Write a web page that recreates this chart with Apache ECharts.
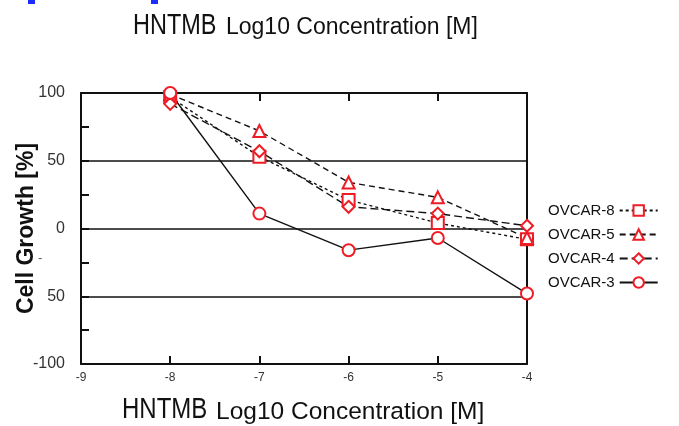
<!DOCTYPE html>
<html>
<head>
<meta charset="utf-8">
<script src="https://cdn.jsdelivr.net/npm/echarts@6/dist/echarts.min.js"></script>
<style>
html,body{margin:0;padding:0;background:#fff;}
#chart{width:679px;height:426px;}
</style>
</head>
<body>
<div id="chart"></div>
<script>
const xValues = [-8, -7, -6, -5, -4];
const ovcar8 = [97, 53, 21, 4, -8];
const ovcar5 = [99, 72, 34, 23, -7];
const ovcar4 = [92, 57, 16, 11, 2];
const ovcar3 = [100, 11, -16, -7, -48];
const seriesNames = ['OVCAR-8', 'OVCAR-5', 'OVCAR-4', 'OVCAR-3'];
const yTickValues = [-100, -50, 0, 50, 100];
const yTickLabels = ['-100', '50', '0', '50', '100'];
const xTickLabels = ['-9', '-8', '-7', '-6', '-5', '-4'];
const titleDrug = 'HNTMB';
const titleUnit = 'Log10 Concentration [M]';

const RED = '#ee1c25';
const FONT = '"Liberation Sans", Arial, sans-serif';

function pairs(vals) { return xValues.map((x, i) => [x, vals[i]]); }

function mkSeries(name, vals, symbol, dash) {
  return {
    name: name, type: 'line', data: pairs(vals),
    symbol: symbol, symbolSize: 12, showSymbol: true,
    xAxisIndex: 0, yAxisIndex: 0,
    lineStyle: { color: '#111', width: 1.4, type: dash },
    itemStyle: { color: RED, borderColor: RED, borderWidth: 1.5 },
    emphasis: { disabled: true },
    z: 3
  };
}

function txt(text, x, y, size, scaleX) {
  return {
    type: 'text', x: x, y: y, scaleX: scaleX || 1, silent: true,
    style: { text: text, fontFamily: FONT, fontSize: size, fill: '#111',
      textAlign: 'left', textVerticalAlign: 'middle', verticalAlign: 'middle' }
  };
}

const chart = echarts.init(document.getElementById('chart'), null, { renderer: 'canvas' });
chart.setOption({
  animation: false,
  backgroundColor: '#fff',
  legend: {
    orient: 'vertical', left: 543, top: 198, align: 'right',
    itemWidth: 38, itemHeight: 13, itemGap: 9,
    data: seriesNames,
    textStyle: { fontFamily: FONT, fontSize: 15, color: '#111' }
  },
  grid: { left: 81, right: 152, top: 93, bottom: 62, outerBoundsMode: 'none', containLabel: false },
  xAxis: [
    {
      type: 'value', min: -9, max: -4, interval: 1, position: 'bottom',
      axisLine: { show: true, onZero: false, lineStyle: { color: '#111', width: 2 } },
      axisTick: { show: true, inside: true, length: 8, lineStyle: { color: '#111', width: 2 } },
      axisLabel: { show: true, fontFamily: FONT, fontSize: 12, color: '#333', margin: 8,
        formatter: (v) => xTickLabels[Math.round(v + 9)] },
      splitLine: { show: false }
    },
    {
      type: 'value', min: -9, max: -4, interval: 1, position: 'top',
      axisLine: { show: true, onZero: false, lineStyle: { color: '#111', width: 2 } },
      axisTick: { show: true, inside: true, length: 8, lineStyle: { color: '#111', width: 2 } },
      axisLabel: { show: false },
      splitLine: { show: false }
    }
  ],
  yAxis: [
    {
      type: 'value', min: -100, max: 100, interval: 50, position: 'left',
      name: 'Cell Growth [%]', nameLocation: 'middle', nameGap: 43, nameMoveOverlap: false,
      nameTextStyle: { fontFamily: FONT, fontSize: 23, fontWeight: 'bold', color: '#111' },
      axisLine: { show: true, onZero: false, lineStyle: { color: '#111', width: 2 } },
      axisTick: { show: true, inside: true, length: 8, lineStyle: { color: '#111', width: 2 } },
      minorTick: { show: true, splitNumber: 2, length: 8, lineStyle: { color: '#111', width: 2 } },
      axisLabel: { fontFamily: FONT, fontSize: 16, color: '#333', margin: 16,
        formatter: (v) => yTickLabels[yTickValues.indexOf(v)] },
      splitLine: { show: true, lineStyle: { color: '#111', width: 1.6 } }
    },
    {
      type: 'value', min: -100, max: 100, interval: 50, position: 'right',
      axisLine: { show: true, onZero: false, lineStyle: { color: '#111', width: 2 } },
      axisTick: { show: false }, axisLabel: { show: false }, splitLine: { show: false }
    }
  ],
  graphic: [
    { type: 'rect', shape: { x: 28, y: 0, width: 7, height: 4 }, style: { fill: '#1a2cff' } },
    { type: 'rect', shape: { x: 151, y: 0, width: 7, height: 4 }, style: { fill: '#1a2cff' } },
    { type: 'text', x: 38, y: 252, style: { text: '-', fontFamily: FONT, fontSize: 13, fill: '#555' } },
    txt(titleDrug, 133, 26, 29, 0.81),
    txt(titleUnit, 226, 28, 23),
    txt(titleDrug, 122, 410, 30, 0.80),
    txt(titleUnit, 216, 412, 24.5)
  ],
  series: [
    mkSeries('OVCAR-8', ovcar8, 'emptyRect', [3, 3]),
    mkSeries('OVCAR-5', ovcar5, 'emptyTriangle', [6, 4]),
    mkSeries('OVCAR-4', ovcar4, 'emptyDiamond', [8, 4]),
    mkSeries('OVCAR-3', ovcar3, 'emptyCircle', 'solid')
  ]
});
</script>
</body>
</html>
